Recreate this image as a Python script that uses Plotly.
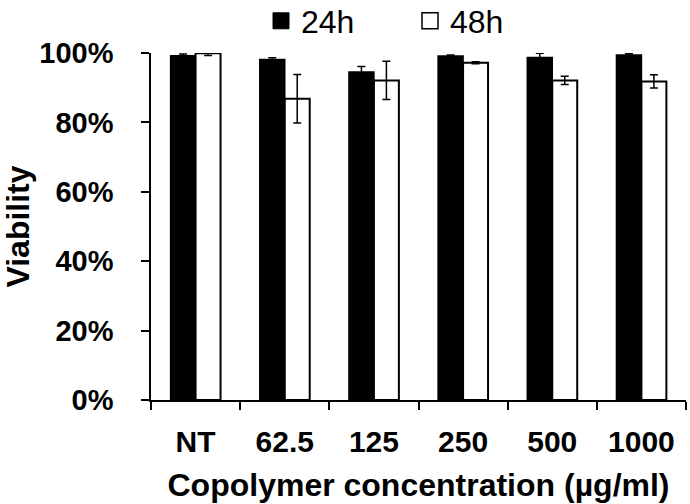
import plotly.graph_objects as go

categories = ["NT", "62.5", "125", "250", "500", "1000"]
viab_24h = [99.2, 98.1, 94.5, 99.1, 98.7, 99.4]
err_24h = [0.5, 0.5, 1.6, 0.3, 1.2, 0.4]
viab_48h = [99.9, 86.8, 92.1, 97.2, 92.1, 91.8]
err_48h = [0.6, 7.0, 5.5, 0.3, 1.2, 1.9]
y_ticks = [0, 20, 40, 60, 80, 100]
y_ticklabels = ["0%", "20%", "40%", "60%", "80%", "100%"]

FONT = "Liberation Sans, Arial, sans-serif"

fig = go.Figure()
fig.add_trace(go.Bar(
    x=categories, y=viab_24h, name="24h", showlegend=False,
    marker=dict(color="black", line=dict(color="black", width=1.5)),
    error_y=dict(type="data", array=err_24h, color="black", thickness=1.5, width=4),
))
fig.add_trace(go.Bar(
    x=categories, y=viab_48h, name="48h", showlegend=False,
    marker=dict(color="white", line=dict(color="black", width=2)),
    error_y=dict(type="data", array=err_48h, color="black", thickness=1.5, width=4),
))
# legend entries
fig.add_trace(go.Scatter(x=[None], y=[None], mode="markers", name="24h",
                         marker=dict(symbol="square", size=18, color="black",
                                     line=dict(color="black", width=1))))
fig.add_trace(go.Scatter(x=[None], y=[None], mode="markers", name="48h",
                         marker=dict(symbol="square", size=17, color="white",
                                     line=dict(color="black", width=1.5))))

fig.update_layout(
    width=690, height=504,
    margin=dict(l=151, r=4, t=53, b=104, autoexpand=False),
    paper_bgcolor="white", plot_bgcolor="white",
    barmode="group", bargap=0.44, bargroupgap=0,
    font=dict(family=FONT, color="black"),
    legend=dict(orientation="h", xref="container", yref="container",
                x=261 / 690, xanchor="left", y=1 - 21 / 504, yanchor="middle",
                font=dict(size=32, family=FONT), itemwidth=30,
                entrywidth=104, entrywidthmode="pixels",
                tracegroupgap=0, bgcolor="rgba(0,0,0,0)"),
    xaxis=dict(
        type="category", showline=True, linecolor="black", linewidth=1.5,
        ticks="outside", tickson="boundaries", ticklen=8, tickwidth=1.5,
        tickcolor="black", showgrid=False, zeroline=False, automargin=False,
        tickfont=dict(size=30, family=FONT, weight="bold"),
        ticklabelstandoff=14,
        title=dict(text="Copolymer concentration (µg/ml)",
                   font=dict(size=32, family=FONT, weight="bold"), standoff=17),
    ),
    yaxis=dict(
        range=[0, 100], showline=True, linecolor="black", linewidth=1.5,
        ticks="outside", ticklen=8, tickwidth=1.5, tickcolor="black",
        tickvals=y_ticks, ticktext=y_ticklabels, showgrid=False, zeroline=False,
        automargin=False,
        tickfont=dict(size=29, family=FONT, weight="bold"),
        ticklabelstandoff=22,
        title=dict(text="Viability", font=dict(size=32, family=FONT, weight="bold"),
                   standoff=18),
    ),
)
fig.update_traces(cliponaxis=False, selector=dict(type="bar"))

fig.write_html("out.html", config={"displayModeBar": False},
               post_script="document.body.style.margin='0';")
